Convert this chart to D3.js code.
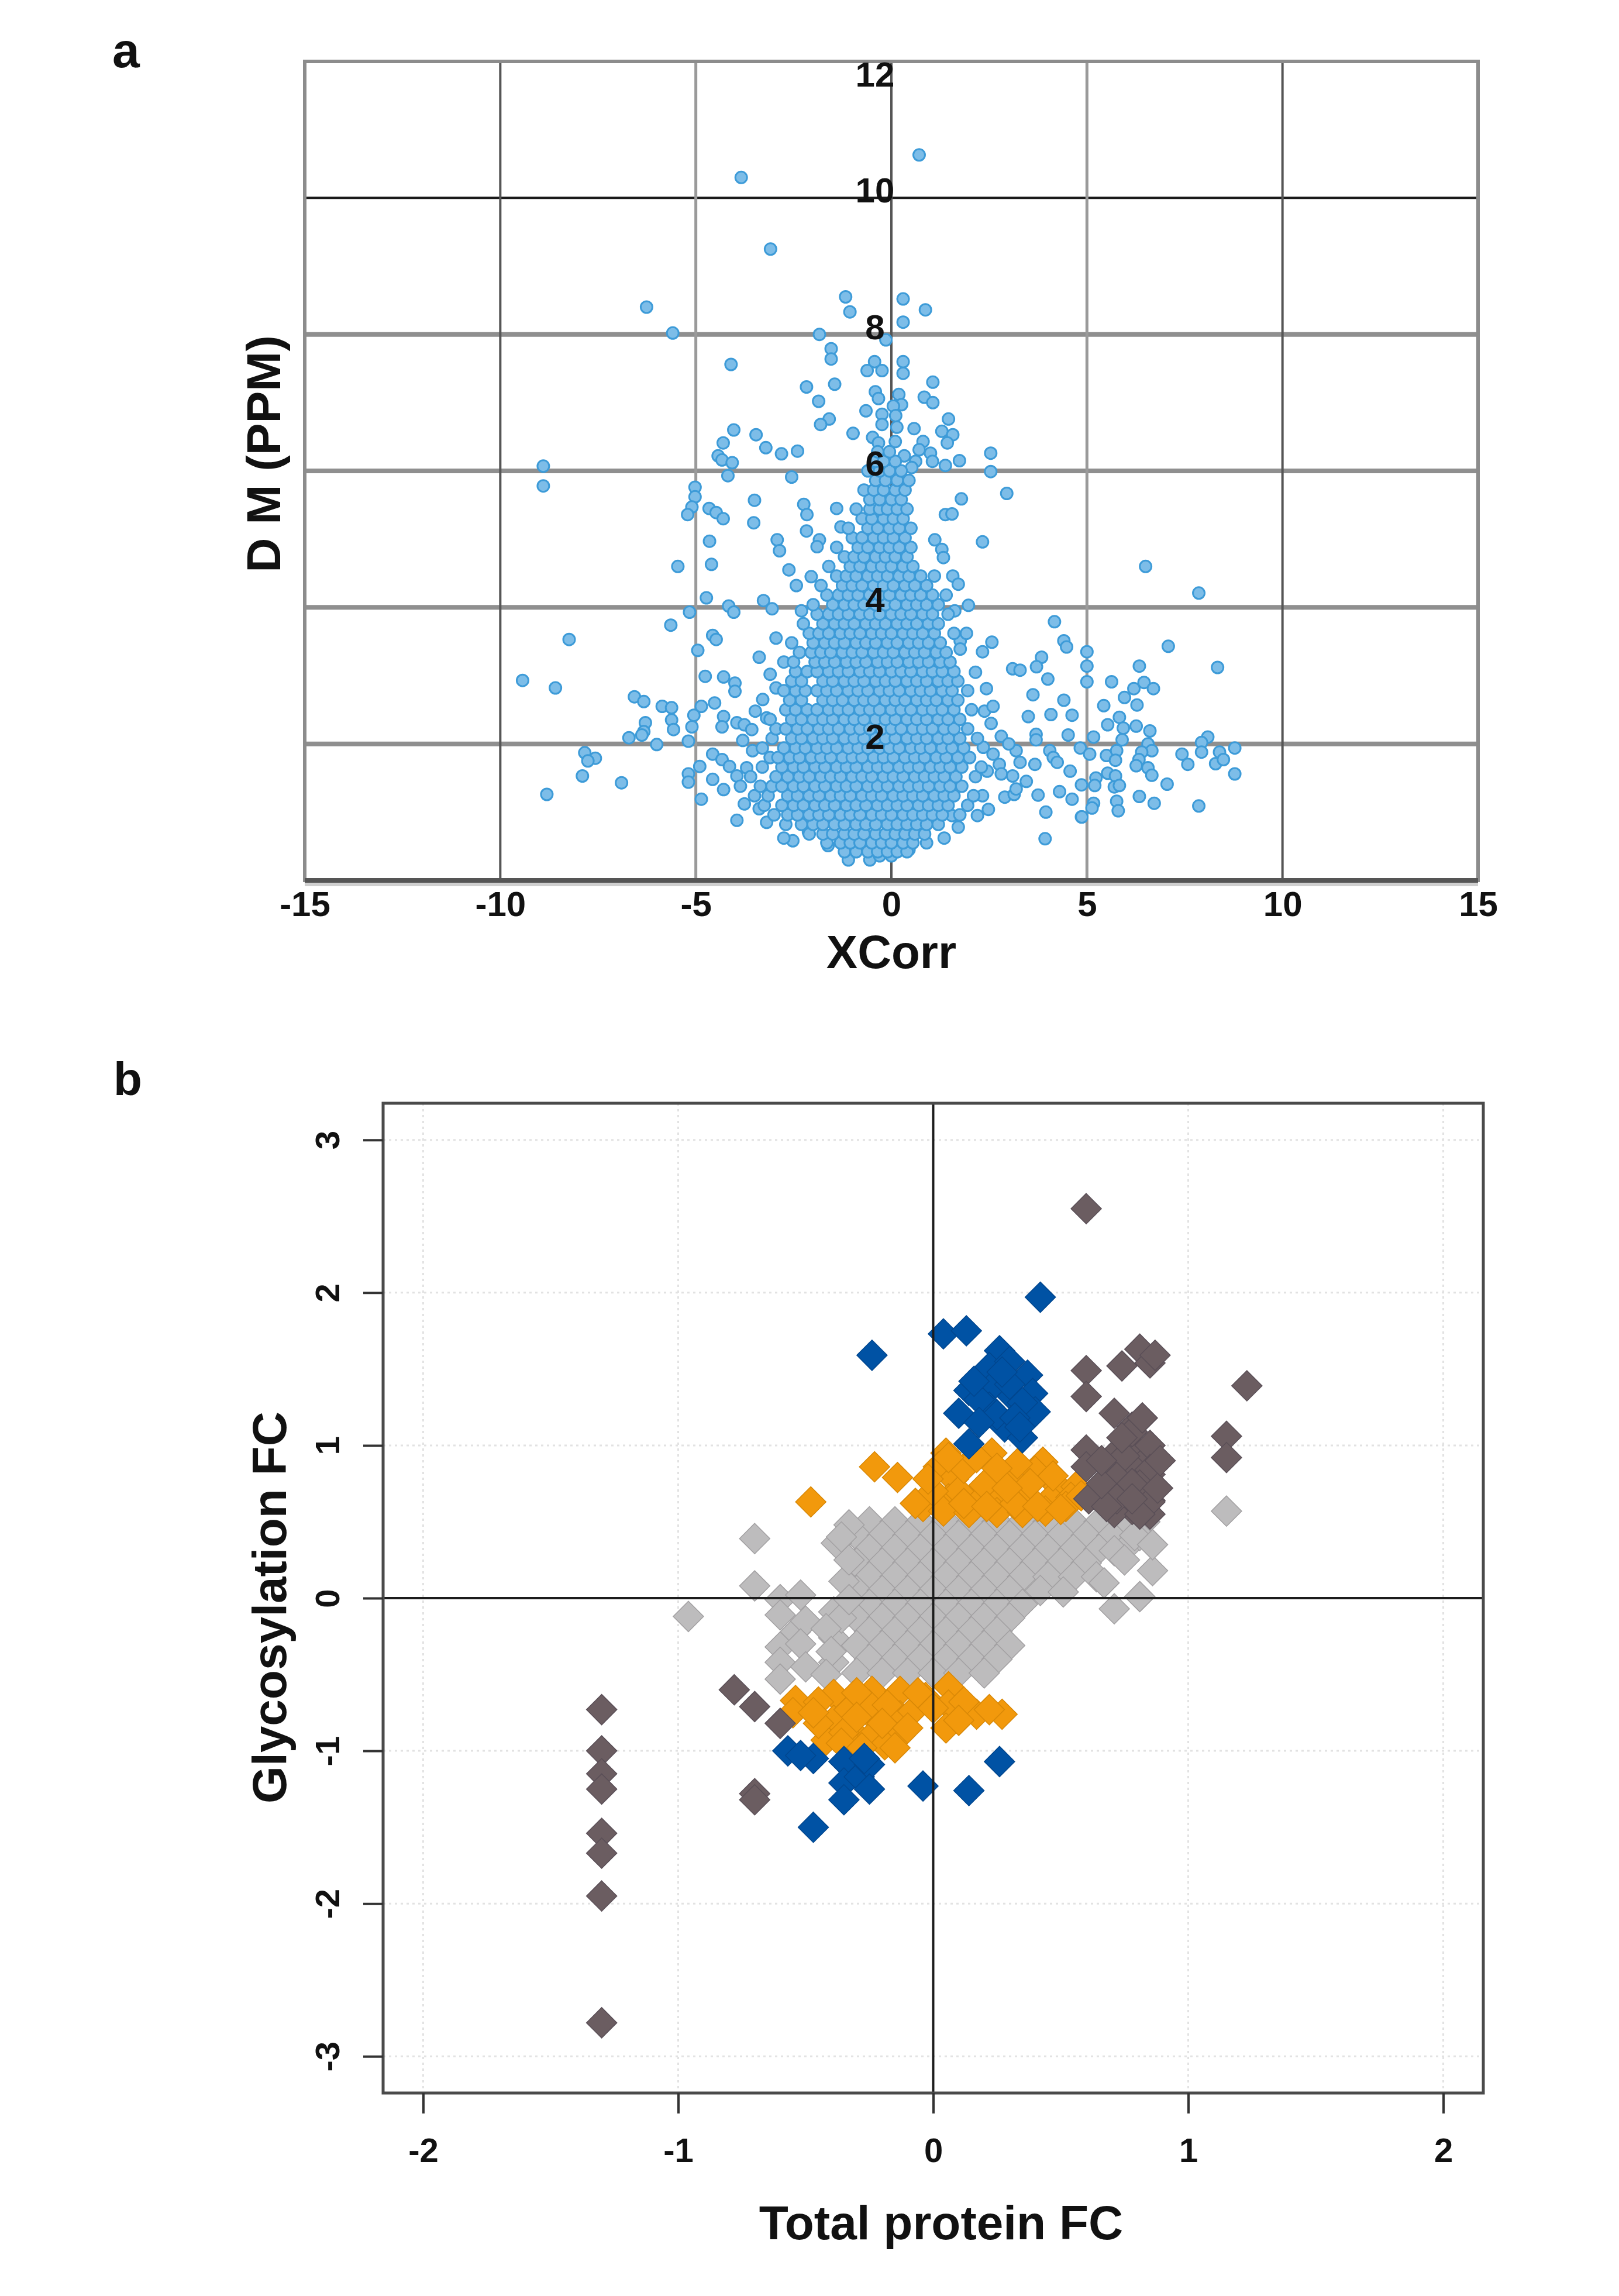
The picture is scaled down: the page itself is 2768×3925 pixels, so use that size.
<!DOCTYPE html>
<html>
<head>
<meta charset="utf-8">
<script src="https://cdn.jsdelivr.net/npm/d3@7"></script>
<style>
  body { margin: 0; background: #fff; }
  text { font-family: "Liberation Sans", Arial, Helvetica, sans-serif; font-weight: bold; fill: #111; }
</style>
</head>
<body>
<script>
//////////////////////////////////////////////
// Data //////////////////////////////////////
//////////////////////////////////////////////

// panel a: ticks
var xcorrTicks = [-15, -10, -5, 0, 5, 10, 15];
var dmTicks = [2, 4, 6, 8, 10, 12];

// panel a: scattered points [XCorr, D M ppm]
var xcorrSparse = [
  [0.71,10.63],[-3.84,10.30],[-3.09,9.25],[-6.26,8.40],[-5.59,8.02],[-1.17,8.55],[-1.06,8.33],[0.30,8.52],
  [0.87,8.36],[0.30,8.18],[-1.84,8.00],[-0.14,7.92],[-1.54,7.79],[-1.54,7.64],[-4.10,7.56],[-0.43,7.60],
  [-0.62,7.47],[-0.24,7.47],[0.30,7.60],[0.30,7.43],[-2.17,7.23],[-1.45,7.27],[1.06,7.30],[-1.86,7.02],
  [-0.41,7.16],[-0.33,7.06],[0.19,7.12],[0.26,6.97],[0.84,7.08],[1.06,7.00],[-0.65,6.88],[0.05,6.95],
  [-0.24,6.83],[0.11,6.81],[-1.59,6.76],[-1.81,6.68],[-0.24,6.68],[0.14,6.64],[1.46,6.76],[1.29,6.58],
  [1.57,6.53],[1.43,6.41],[-4.03,6.60],[-3.46,6.53],[-0.98,6.55],[0.58,6.62],[-0.48,6.49],[-0.33,6.41],
  [0.10,6.43],[-4.30,6.41],[-4.43,6.22],[-4.33,6.16],[-4.07,6.12],[-3.21,6.34],[-2.81,6.25],[-2.40,6.29],
  [0.81,6.43],[0.71,6.31],[1.00,6.26],[0.33,6.22],[0.62,6.14],[0.52,6.05],[1.05,6.14],[1.38,6.08],
  [1.74,6.15],[2.54,6.26],[2.54,5.99],[2.95,5.67],[1.79,5.59],[-8.90,6.07],[-8.90,5.78],[-4.18,5.93],
  [-2.55,5.91],[-5.02,5.76],[-5.02,5.62],[-5.10,5.47],[-5.21,5.36],[-3.50,5.57],[-2.24,5.51],[-2.16,5.36],
  [-4.66,5.45],[-4.48,5.39],[-4.30,5.30],[-3.52,5.24],[-1.40,5.45],[1.38,5.36],[1.55,5.37],
  [-1.29,5.18],[-2.17,5.12],[-2.92,4.99],[-2.86,4.83],[-4.65,4.97],[-5.46,4.60],[-4.60,4.63],[-1.84,4.99],
  [-1.90,4.89],[-2.43,4.32],[1.11,4.99],[1.29,4.85],[1.33,4.73],[2.33,4.96],[1.57,4.46],[1.71,4.34],
  [-4.73,4.14],[-5.16,3.93],[-5.64,3.74],[-4.16,4.02],[-4.03,3.93],[-3.27,4.10],[-3.05,3.98],[-4.57,3.59],
  [-4.48,3.53],[-4.95,3.37],[-3.38,3.27],[-8.24,3.53],[-9.43,2.93],[-8.59,2.82],[1.97,4.03],[1.76,3.51],
  [1.76,3.39],[2.57,3.49],[2.33,3.35],[3.84,3.27],[3.71,3.13],[3.10,3.10],[3.29,3.08],[4.17,3.79],
  [4.41,3.51],[4.48,3.42],[2.43,2.81],[3.62,2.72],[4.41,2.64],[4.08,2.43],[4.62,2.42],[2.38,2.48],
  [2.81,2.11],[3.70,2.14],[3.70,2.06],[4.52,2.13],[3.19,1.90],[3.29,1.73],[4.05,1.90],[4.14,1.80],
  [4.24,1.73],[3.67,1.70],[4.57,1.60],[2.76,1.70],[2.81,1.56],[3.10,1.53],[2.90,1.22],[3.14,1.26],
  [3.19,1.34],[2.33,1.24],[2.48,1.04],[3.95,1.00],[4.62,1.19],[3.93,0.61],[4.86,0.93],[1.71,0.78],
  [2.60,1.85],[3.45,1.45],[2.55,2.30],[3.00,2.00],[3.50,2.40],[4.30,1.30],[3.75,1.25],[2.20,0.95],[4.00,2.95],
  [-6.57,2.69],[-6.33,2.62],[-5.86,2.55],[-5.62,2.53],[-6.29,2.31],[-6.33,2.18],[-6.38,2.13],[-5.62,2.35],
  [-5.57,2.21],[-6.71,2.09],[-6.00,1.99],[-5.19,2.04],[-5.10,2.25],[-5.05,2.42],[-4.86,2.55],[-4.52,2.60],
  [-4.29,2.40],[-4.33,2.25],[-3.95,2.31],[-3.76,2.28],[-3.57,2.21],[-7.84,1.87],[-7.57,1.79],[-7.76,1.75],
  [-7.90,1.53],[-6.90,1.43],[-8.81,1.26],[-4.57,1.85],[-4.90,1.67],[-5.19,1.56],[-5.19,1.44],[-4.86,1.19],
  [-4.57,1.48],[-4.33,1.77],[-4.14,1.67],[-3.95,1.53],[-4.29,1.33],[-3.86,1.38],[-3.76,1.12],[-3.95,0.88],
  [-3.19,0.85],[-3.38,1.05],[-2.52,0.58],[-2.12,0.71],[-1.62,0.51],[-4.76,2.99],[-4.29,2.98],[-4.00,2.89],
  [-4.00,2.77],[-3.29,2.65],[-3.48,2.48],[-3.19,2.38],[-2.95,2.82],[4.86,1.40],
  [6.50,4.60],[7.86,4.21],[5.00,3.35],[7.08,3.43],[5.00,3.14],[5.00,2.91],[6.34,3.14],[8.34,3.12],
  [5.63,2.91],[6.46,2.90],[6.70,2.81],[6.20,2.81],[5.96,2.68],[6.28,2.57],[5.43,2.56],[5.83,2.39],
  [5.53,2.28],[5.93,2.23],[6.26,2.26],[6.61,2.19],[5.17,2.10],[5.90,2.06],[6.56,2.00],[6.66,1.90],
  [6.40,1.88],[6.33,1.77],[4.83,1.94],[5.07,1.85],[5.50,1.83],[5.76,1.90],[5.73,1.76],[8.09,2.10],
  [7.93,2.02],[7.93,1.88],[7.43,1.85],[7.58,1.70],[8.39,1.88],[8.29,1.71],[8.49,1.77],[8.78,1.94],
  [8.78,1.56],[6.26,1.68],[6.56,1.65],[6.66,1.54],[5.53,1.57],[5.73,1.53],[5.23,1.50],[5.20,1.39],
  [5.70,1.37],[5.83,1.39],[7.05,1.41],[5.17,1.13],[5.13,1.06],[5.76,1.16],[5.80,1.02],[6.34,1.23],
  [6.72,1.13],[7.86,1.09],[4.87,0.93],
  [-2.62,4.55],[-2.30,3.95],[-2.95,3.55],[-3.10,3.02],[-2.05,4.45],[1.62,3.95],[1.92,3.62],[2.15,3.05],
  [-3.70,1.65],[-3.55,1.90],[-3.80,2.05],[2.45,1.60],[2.35,1.95],[2.60,2.55],[-2.75,0.62],[1.35,0.62],
  [-1.10,0.30],[0.45,0.45],[-0.55,0.30],[1.55,0.95]
];

// panel a: dense core, one list of XCorr values per D M row
var coreRowY = [0.36,0.42,0.55,0.68,0.82,0.96,1.10,1.24,1.38,1.52,1.66,1.80,1.94,2.08,2.22,2.36,2.50,2.64,2.78,2.92,
  3.06,3.20,3.34,3.48,3.62,3.76,3.90,4.04,4.18,4.32,4.46,4.60,4.74,4.88,5.02,5.16,5.30,5.44,5.58,5.72,5.86,6.00,6.14,6.28];
var coreRowX = [
  [-0.3,0.0],
  [-1.2,-0.9,-0.6,-0.35,-0.1,0.15,0.4],
  [-1.65,-1.3,-1.05,-0.8,-0.5,-0.25,0.0,0.3,0.55,0.9],
  [-2.1,-1.75,-1.5,-1.2,-0.95,-0.7,-0.4,-0.15,0.1,0.35,0.6,0.85],
  [-2.7,-2.3,-2.0,-1.75,-1.45,-1.2,-0.9,-0.65,-0.4,-0.1,0.15,0.4,0.65,0.9,1.2],
  [-3.0,-2.65,-2.4,-2.1,-1.85,-1.6,-1.3,-1.05,-0.8,-0.5,-0.25,0.0,0.3,0.55,0.8,1.05,1.3,1.75],
  [-3.25,-2.8,-2.5,-2.25,-1.95,-1.7,-1.45,-1.15,-0.9,-0.65,-0.35,-0.1,0.15,0.4,0.7,0.95,1.2,1.45,1.95],
  [-3.5,-3.15,-2.65,-2.4,-2.1,-1.85,-1.55,-1.3,-1.05,-0.75,-0.5,-0.25,0.05,0.3,0.55,0.8,1.1,1.35,1.6,2.1],
  [-3.35,-3.05,-2.8,-2.5,-2.25,-1.95,-1.7,-1.4,-1.15,-0.9,-0.6,-0.35,-0.1,0.2,0.45,0.7,0.95,1.25,1.5,1.8],
  [-3.6,-2.95,-2.65,-2.35,-2.1,-1.8,-1.55,-1.3,-1.0,-0.75,-0.5,-0.2,0.05,0.3,0.6,0.85,1.1,1.35,1.65,2.15],
  [-3.3,-2.8,-2.5,-2.25,-1.95,-1.7,-1.4,-1.15,-0.9,-0.6,-0.35,-0.1,0.2,0.45,0.7,1.0,1.25,1.5,1.8,2.3],
  [-3.1,-2.9,-2.6,-2.35,-2.05,-1.8,-1.55,-1.25,-1.0,-0.75,-0.45,-0.2,0.05,0.35,0.6,0.85,1.15,1.4,1.7,2.0],
  [-3.3,-2.75,-2.45,-2.2,-1.9,-1.65,-1.4,-1.1,-0.85,-0.6,-0.3,-0.05,0.2,0.5,0.75,1.0,1.3,1.55,1.85],
  [-3.05,-2.55,-2.3,-2.0,-1.75,-1.5,-1.2,-0.95,-0.7,-0.4,-0.15,0.1,0.4,0.65,0.9,1.2,1.45,1.75,2.2],
  [-2.95,-2.7,-2.4,-2.15,-1.85,-1.6,-1.35,-1.05,-0.8,-0.55,-0.25,0.0,0.25,0.55,0.8,1.05,1.35,1.6,1.95],
  [-3.1,-2.55,-2.3,-2.0,-1.75,-1.5,-1.2,-0.95,-0.7,-0.4,-0.15,0.1,0.4,0.65,0.9,1.2,1.45,1.75],
  [-2.7,-2.45,-2.15,-1.9,-1.6,-1.35,-1.1,-0.8,-0.55,-0.3,0.0,0.25,0.5,0.8,1.05,1.3,1.6,2.05],
  [-2.6,-2.3,-1.75,-1.5,-1.25,-0.95,-0.7,-0.45,-0.15,0.1,0.35,0.65,0.9,1.15,1.45,1.7],
  [-2.75,-2.45,-2.2,-1.9,-1.65,-1.4,-1.1,-0.85,-0.6,-0.3,-0.05,0.2,0.5,0.75,1.0,1.3,1.55,1.95],
  [-2.55,-2.3,-1.75,-1.5,-1.2,-0.95,-0.7,-0.4,-0.15,0.1,0.4,0.65,0.9,1.2,1.45,1.7],
  [-2.45,-2.15,-1.9,-1.6,-1.35,-1.1,-0.8,-0.55,-0.3,0.0,0.25,0.5,0.8,1.05,1.3,1.6],
  [-2.75,-2.5,-1.95,-1.7,-1.45,-1.15,-0.9,-0.65,-0.35,-0.1,0.15,0.45,0.7,0.95,1.25,1.5],
  [-2.35,-2.05,-1.8,-1.55,-1.25,-1.0,-0.75,-0.45,-0.2,0.05,0.35,0.6,0.85,1.15,1.4],
  [-2.55,-2.0,-1.7,-1.45,-1.2,-0.9,-0.65,-0.4,-0.1,0.15,0.45,0.7,0.95,1.25],
  [-2.1,-1.85,-1.6,-1.3,-1.05,-0.8,-0.5,-0.25,0.0,0.3,0.55,0.8,1.1,1.6],
  [-2.25,-1.75,-1.45,-1.2,-0.95,-0.65,-0.4,-0.15,0.15,0.4,0.65,0.95,1.2],
  [-1.9,-1.6,-1.35,-1.1,-0.8,-0.55,-0.3,0.0,0.25,0.5,0.8,1.05,1.45],
  [-2.0,-1.5,-1.2,-0.95,-0.7,-0.4,-0.15,0.1,0.4,0.65,0.9,1.2],
  [-1.65,-1.35,-1.1,-0.85,-0.55,-0.3,-0.05,0.25,0.5,0.75,1.05,1.4],
  [-1.8,-1.25,-1.0,-0.75,-0.45,-0.2,0.05,0.35,0.6,0.9],
  [-1.4,-1.15,-0.9,-0.6,-0.35,-0.1,0.2,0.45,0.75,1.1],
  [-1.6,-1.05,-0.8,-0.5,-0.25,0.0,0.3,0.55],
  [-1.2,-0.95,-0.7,-0.4,-0.15,0.1,0.4],
  [-1.4,-0.85,-0.6,-0.3,-0.05,0.2,0.5],
  [-1.0,-0.75,-0.45,-0.2,0.05,0.35],
  [-1.1,-0.6,-0.35,-0.05,0.2,0.5],
  [-0.75,-0.5,-0.2,0.05,0.3],
  [-0.9,-0.55,-0.3,-0.1,0.15,0.4],
  [-0.55,-0.3,0.0,0.25],
  [-0.7,-0.45,-0.2,0.1,0.35],
  [-0.4,-0.15,0.15,0.45],
  [-0.6,-0.3,-0.05,0.25],
  [-0.4,-0.2,0.1],
  [-0.35,-0.05]
];

// panel b: ticks
var fcXTicks = [-2, -1, 0, 1, 2];
var fcYTicks = [-3, -2, -1, 0, 1, 2, 3];

// panel b: unchanged peptides [total protein FC, glycosylation FC], dense block as rows
var grayRowY = [0.50,0.41,0.32,0.23,0.14,0.05,-0.04,-0.13,-0.22,-0.31,-0.40,-0.49];
var grayRowX = [
  [-0.25,-0.15,-0.05,0.05,0.15,0.25,0.35,0.45,0.55,0.65,0.75,0.83],
  [-0.3,-0.2,-0.1,0.0,0.1,0.2,0.3,0.4,0.5,0.6,0.7,0.8],
  [-0.25,-0.15,-0.05,0.05,0.15,0.25,0.35,0.45,0.55,0.65,0.75],
  [-0.3,-0.2,-0.1,0.0,0.1,0.2,0.3,0.4,0.5,0.6],
  [-0.25,-0.15,-0.05,0.05,0.15,0.25,0.35,0.45,0.55],
  [-0.3,-0.2,-0.1,0.0,0.1,0.2,0.3,0.42],
  [-0.25,-0.15,-0.05,0.05,0.15,0.25,0.35],
  [-0.3,-0.2,-0.1,0.0,0.1,0.2,0.3],
  [-0.25,-0.15,-0.05,0.05,0.15,0.25],
  [-0.3,-0.2,-0.1,0.0,0.1,0.2,0.3],
  [-0.25,-0.15,-0.05,0.05,0.15,0.25],
  [-0.3,-0.2,-0.1,0.0,0.1,0.2]
];
var graySparse = [
  [-0.33,0.48],[-0.38,0.36],[-0.35,0.11],[-0.96,-0.12],[-0.70,0.39],[-0.70,0.08],[-0.60,-0.01],[-0.60,-0.11],
  [-0.54,-0.22],[-0.60,-0.32],[-0.60,-0.42],[-0.60,-0.53],[-0.39,-0.09],[-0.39,-0.26],[-0.39,-0.42],[-0.36,-0.13],
  [-0.33,-0.01],[-0.52,0.02],[-0.50,-0.15],[-0.52,-0.30],[-0.50,-0.45],[-0.42,-0.20],[-0.40,-0.35],[-0.42,-0.50],
  [0.86,0.18],[0.64,0.14],[0.71,-0.07],[0.81,0.01],[0.81,0.41],[1.15,0.57],[0.67,0.10],[0.51,0.04],
  [0.79,0.41],[0.71,0.31],[0.75,0.25],[0.86,0.35],[-0.33,0.25],[-0.36,0.40]
];

// panel b: moderately changed (orange)
var orangePoints = [
  [0.05,0.95],[0.23,0.95],[0.43,0.89],[0.02,0.86],[0.08,0.78],[0.30,0.79],[0.40,0.83],[0.49,0.73],
  [0.56,0.73],[0.06,0.65],[0.15,0.65],[0.27,0.68],[0.36,0.68],[0.46,0.65],[0.54,0.66],[-0.04,0.60],
  [0.04,0.57],[0.14,0.56],[0.25,0.56],[0.35,0.56],[0.44,0.57],[0.52,0.60],[0.10,0.70],[-0.23,0.86],
  [-0.14,0.79],[-0.48,0.63],[-0.07,0.62],[0.20,0.74],[0.58,0.67],[0.32,0.62],
  [0.00,0.70],[0.12,0.85],[0.17,0.92],[0.33,0.88],[0.25,0.85],[0.47,0.80],[0.38,0.75],[0.29,0.72],
  [0.12,0.62],[0.21,0.60],[0.41,0.60],[0.50,0.58],[-0.02,0.78],[0.06,0.92],
  [-0.24,-0.61],[-0.13,-0.61],[-0.03,-0.65],[0.06,-0.58],[0.06,-0.70],[0.05,-0.85],[0.17,-0.76],[0.27,-0.76],
  [-0.24,-0.77],[-0.13,-0.77],[-0.30,-0.90],[-0.24,-0.90],[-0.13,-0.90],[-0.19,-0.96],[-0.54,-0.67],[-0.39,-0.63],
  [-0.39,-0.80],[-0.33,-0.73],[-0.25,-0.70],[-0.42,-0.93],[-0.35,-0.88],[-0.18,-0.70],[-0.08,-0.74],[0.22,-0.73],
  [-0.55,-0.75],[-0.45,-0.68],[-0.45,-0.82],[-0.30,-0.62],[-0.30,-0.78],[-0.20,-0.82],[-0.10,-0.85],[-0.06,-0.62],
  [0.00,-0.72],[-0.36,-0.95],[-0.28,-0.98],[-0.15,-0.98],[0.12,-0.68],[0.10,-0.80],[-0.47,-0.75]
];

// panel b: strongly changed (blue)
var bluePoints = [
  [-0.24,1.59],[0.04,1.73],[0.13,1.75],[0.42,1.97],[0.26,1.62],[0.22,1.51],[0.37,1.46],[0.14,1.36],
  [0.24,1.40],[0.39,1.34],[0.10,1.21],[0.22,1.25],[0.31,1.32],[0.40,1.22],[0.28,1.12],[0.35,1.05],
  [0.14,1.01],[0.18,1.30],[0.30,1.55],[0.30,1.40],[0.35,1.28],[0.25,1.20],[0.18,1.15],[0.32,1.18],
  [0.27,1.48],[0.16,1.42],[0.34,1.12],
  [-0.57,-1.00],[-0.47,-1.05],[-0.35,-1.07],[-0.35,-1.21],[-0.35,-1.32],[-0.29,-1.17],[-0.25,-1.09],[-0.25,-1.25],
  [-0.47,-1.50],[0.26,-1.07],[-0.04,-1.23],[0.14,-1.26],[-0.27,-1.05],[-0.52,-1.03]
];

// panel b: protein-driven (dark)
var darkPoints = [
  [-1.30,-0.73],[-1.30,-1.00],[-1.30,-1.15],[-1.30,-1.25],[-1.30,-1.54],[-1.30,-1.67],[-1.30,-1.95],[-1.30,-2.78],
  [-0.78,-0.60],[-0.70,-0.71],[-0.60,-0.82],[-0.70,-1.28],[-0.70,-1.32],[0.60,2.55],[0.81,1.63],[0.85,1.54],
  [0.74,1.52],[0.60,1.49],[0.60,1.32],[1.23,1.39],[0.71,1.21],[0.78,1.12],[0.78,1.00],[1.15,1.06],
  [1.15,0.92],[0.60,0.97],[0.60,0.86],[0.71,0.94],[0.85,0.93],[0.71,0.83],[0.85,0.81],[0.78,0.86],
  [0.61,0.65],[0.71,0.70],[0.85,0.64],[0.78,0.58],[0.71,0.56],[0.85,0.55],[0.78,1.09],[0.85,1.00],
  [0.75,0.93],[0.85,0.84],[0.72,0.79],[0.81,0.74],[0.72,0.65],[0.85,0.63],[0.81,0.55],[0.87,1.59],
  [0.78,0.75],[0.78,0.65],[0.68,0.60],[0.66,0.75],[0.66,0.90],[0.82,1.18],[0.74,1.05],[0.88,0.72],[0.89,0.90]
];

// rows -> points
function fromRows(rowY, rowX) {
  var out = [];
  rowY.forEach(function(y, i) {
    rowX[i].forEach(function(x) { out.push([x, y]); });
  });
  return out;
}

//////////////////////////////////////////////
// Canvas ////////////////////////////////////
//////////////////////////////////////////////
var W = 2768, H = 3925;
var svg = d3.select("body").append("svg")
    .attr("width", W)
    .attr("height", H);
svg.append("rect").attr("width", W).attr("height", H).attr("fill", "#fff");

//////////////////////////////////////////////
// Panel a ///////////////////////////////////
//////////////////////////////////////////////
var boxA = {left: 521, right: 2527, top: 105, bottom: 1505};
var xA = d3.scaleLinear().domain([-15, 15]).range([boxA.left, boxA.right]);
var yA = d3.scaleLinear().domain([0, 12]).range([boxA.bottom, boxA.top]);
var gA = svg.append("g");

// grid lines (under the points)
gA.selectAll("line.hgrid").data([2, 4, 6, 8, 10]).join("line")
    .attr("x1", boxA.left).attr("x2", boxA.right)
    .attr("y1", function(d) { return yA(d); })
    .attr("y2", function(d) { return yA(d); })
    .attr("stroke", function(d) { return d === 10 ? "#1a1a1a" : "#8f8f8f"; })
    .attr("stroke-width", function(d) { return d === 10 ? 4 : 8; });

gA.selectAll("line.vgrid").data([-10, -5, 0, 5, 10]).join("line")
    .attr("x1", function(d) { return xA(d); })
    .attr("x2", function(d) { return xA(d); })
    .attr("y1", boxA.top).attr("y2", boxA.bottom)
    .attr("stroke", function(d) { return Math.abs(d) === 5 ? "#9a9a9a" : "#555"; })
    .attr("stroke-width", function(d) { return Math.abs(d) === 5 ? 5 : 4; });

gA.append("rect")
    .attr("x", boxA.left).attr("y", boxA.top)
    .attr("width", boxA.right - boxA.left).attr("height", boxA.bottom - boxA.top)
    .attr("fill", "none").attr("stroke", "#8c8c8c").attr("stroke-width", 6);
gA.append("line")
    .attr("x1", boxA.left).attr("x2", boxA.right)
    .attr("y1", boxA.bottom + 7).attr("y2", boxA.bottom + 7)
    .attr("stroke", "#cfcfcf").attr("stroke-width", 6);
gA.append("line")
    .attr("x1", boxA.left).attr("x2", boxA.right)
    .attr("y1", boxA.bottom).attr("y2", boxA.bottom)
    .attr("stroke", "#555").attr("stroke-width", 8);

// points
var aPoints = xcorrSparse.concat(fromRows(coreRowY, coreRowX));
gA.append("g").selectAll("circle").data(aPoints).join("circle")
    .attr("cx", function(d) { return xA(d[0]); })
    .attr("cy", function(d) { return yA(d[1]); })
    .attr("r", 10)
    .attr("fill", "#7dbde8")
    .attr("stroke", "#3d9bd8")
    .attr("stroke-width", 3);

// y labels sit inside the plot next to x = 0
gA.selectAll("text.ylab").data(dmTicks).join("text")
    .attr("x", xA(-0.42))
    .attr("y", function(d) { return Math.max(yA(d) + 8, boxA.top + 43); })
    .attr("text-anchor", "middle")
    .attr("font-size", 60)
    .text(function(d) { return d; });

// x axis labels
var xAxisA = d3.axisBottom(xA).tickValues(xcorrTicks).tickSize(0).tickPadding(18)
    .tickFormat(function(d) { return String(d); });
var xAxisAEl = gA.append("g")
    .attr("transform", "translate(0," + boxA.bottom + ")")
    .call(xAxisA);
xAxisAEl.select(".domain").remove();
xAxisAEl.selectAll("text").attr("font-size", 60).attr("fill", "#111")
    .style("font-family", "'Liberation Sans', Arial, sans-serif").style("font-weight", "bold");

gA.append("text").attr("x", xA(0)).attr("y", 1655)
    .attr("text-anchor", "middle").attr("font-size", 80).text("XCorr");
gA.append("text").attr("transform", "translate(479,776) rotate(-90)")
    .attr("text-anchor", "middle").attr("font-size", 82).text("D M (PPM)");
gA.append("text").attr("x", 192).attr("y", 115).attr("font-size", 84).text("a");

//////////////////////////////////////////////
// Panel b ///////////////////////////////////
//////////////////////////////////////////////
var boxB = {left: 655, right: 2536, top: 1886, bottom: 3578};
var xB = d3.scaleLinear().domain([-2.157, 2.157]).range([boxB.left, boxB.right]);
var yB = d3.scaleLinear().domain([-3.24, 3.24]).range([boxB.bottom, boxB.top]);
var gB = svg.append("g");

// dotted grid
gB.selectAll("line.xgrid").data(fcXTicks).join("line")
    .attr("x1", function(d) { return xB(d); })
    .attr("x2", function(d) { return xB(d); })
    .attr("y1", boxB.top).attr("y2", boxB.bottom)
    .attr("stroke", "#e2e2e2").attr("stroke-width", 3).attr("stroke-dasharray", "4,6");
gB.selectAll("line.ygrid").data(fcYTicks).join("line")
    .attr("x1", boxB.left).attr("x2", boxB.right)
    .attr("y1", function(d) { return yB(d); })
    .attr("y2", function(d) { return yB(d); })
    .attr("stroke", "#e2e2e2").attr("stroke-width", 3).attr("stroke-dasharray", "4,6");

var diamond = "M0,-26L26,0L0,26L-26,0Z";
function drawDiamonds(data, fill, stroke, sw) {
  gB.append("g").selectAll("path").data(data).join("path")
      .attr("d", diamond)
      .attr("transform", function(d) { return "translate(" + xB(d[0]) + "," + yB(d[1]) + ")"; })
      .attr("fill", fill)
      .attr("stroke", stroke)
      .attr("stroke-width", sw);
}
drawDiamonds(fromRows(grayRowY, grayRowX).concat(graySparse), "#bdbcbd", "#a2a0a2", 1.5);
drawDiamonds(orangePoints, "#f2990c", "#d98806", 1.5);
drawDiamonds(bluePoints, "#0052a4", "#00468f", 1.5);
drawDiamonds(darkPoints, "#6b5d61", "#5a4f57", 1.5);

// zero lines over the points
gB.append("line").attr("x1", xB(0)).attr("x2", xB(0))
    .attr("y1", boxB.top).attr("y2", boxB.bottom)
    .attr("stroke", "#1c1c1c").attr("stroke-width", 4);
gB.append("line").attr("x1", boxB.left).attr("x2", boxB.right)
    .attr("y1", yB(0)).attr("y2", yB(0))
    .attr("stroke", "#1c1c1c").attr("stroke-width", 4);

gB.append("rect")
    .attr("x", boxB.left).attr("y", boxB.top)
    .attr("width", boxB.right - boxB.left).attr("height", boxB.bottom - boxB.top)
    .attr("fill", "none").attr("stroke", "#4a4a4a").attr("stroke-width", 5);

// axes
var xAxisB = d3.axisBottom(xB).tickValues(fcXTicks).tickSize(35).tickPadding(42)
    .tickFormat(function(d) { return String(d); });
var xAxisBEl = gB.append("g")
    .attr("transform", "translate(0," + boxB.bottom + ")")
    .call(xAxisB);
xAxisBEl.select(".domain").remove();
xAxisBEl.selectAll("line").attr("stroke", "#333").attr("stroke-width", 4);
xAxisBEl.selectAll("text").attr("font-size", 58).attr("fill", "#111")
    .style("font-family", "'Liberation Sans', Arial, sans-serif").style("font-weight", "bold");

var yAxisB = d3.axisLeft(yB).tickValues(fcYTicks).tickSize(34)
    .tickFormat(function(d) { return String(d); });
var yAxisBEl = gB.append("g")
    .attr("transform", "translate(" + boxB.left + ",0)")
    .call(yAxisB);
yAxisBEl.select(".domain").remove();
yAxisBEl.selectAll("line").attr("stroke", "#333").attr("stroke-width", 4);
yAxisBEl.selectAll("text")
    .attr("x", 0).attr("dy", null)
    .attr("transform", "translate(" + (559 - boxB.left) + ",0) rotate(-90)")
    .attr("text-anchor", "middle")
    .attr("dominant-baseline", "central")
    .attr("font-size", 58).attr("fill", "#111")
    .style("font-family", "'Liberation Sans', Arial, sans-serif").style("font-weight", "bold");

gB.append("text").attr("x", 1609).attr("y", 3828)
    .attr("text-anchor", "middle").attr("font-size", 82).text("Total protein FC");
gB.append("text").attr("transform", "translate(489,2748) rotate(-90)")
    .attr("text-anchor", "middle").attr("font-size", 82).text("Glycosylation FC");
gB.append("text").attr("x", 194).attr("y", 1872).attr("font-size", 80).text("b");
</script>
</body>
</html>
